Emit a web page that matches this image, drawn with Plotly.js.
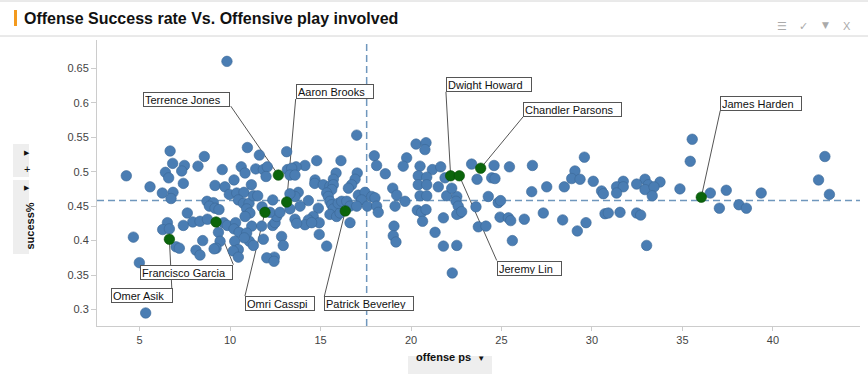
<!DOCTYPE html>
<html>
<head>
<meta charset="utf-8">
<script src="https://cdn.plot.ly/plotly-3.0.1.min.js"></script>
<style>html,body{margin:0;padding:0;background:#fff;}#chart{width:868px;height:374px;}</style>
</head>
<body>
<div id="chart"></div>
<script>
// ---- data ----
const playerX = [9.83,6.69,6.83,7.48,7.33,6.43,8.58,8.23,9.57,10.96,11.62,10.62,10.83,11.42,11.84,12.06,13.13,13.17,4.27,6.61,10.22,11.99,
5.58,6.26,6.85,6.74,7.42,9.17,9.72,11.18,9.96,10.37,10.77,10.46,10.74,11.05,11.29,11.53,10.92,11.10,10.83,11.77,12.36,8.73,9.08,8.86,9.17,9.39,7.64,
6.54,6.28,6.65,7.94,8.34,8.75,7.42,9.65,9.85,10.31,10.22,10.50,9.36,9.45,9.23,9.12,8.49,8.12,8.34,7.02,7.20,4.66,4.99,5.34,10.26,10.46,10.18,10.46,
11.07,11.29,11.20,10.92,10.79,11.75,11.84,12.36,12.49,12.58,12.21,12.76,12.85,12.94,12.45,12.03,12.43,
17.00,14.79,16.13,14.14,13.65,13.41,13.31,13.59,15.86,17.03,17.97,18.10,18.58,20.28,20.83,20.77,19.76,19.57,20.50,21.18,21.64,20.40,20.87,14.70,15.71,23.35,
16.91,16.72,16.54,14.68,15.15,15.52,15.71,15.62,15.34,13.77,13.59,13.31,14.33,13.87,13.31,14.88,14.60,14.93,14.33,14.14,14.51,13.59,13.68,14.93,15.34,
15.43,15.52,15.62,15.71,15.52,15.89,16.08,15.98,16.17,16.45,16.63,16.63,17.09,17.46,17.27,17.00,17.59,17.83,18.01,18.10,18.19,18.99,19.21,19.67,19.12,
19.06,19.02,19.17,20.40,20.87,21.51,21.97,21.88,20.50,20.87,20.35,20.59,20.83,20.64,21.33,21.79,21.79,22.53,22.49,22.61,22.71,22.53,22.80,22.25,22.53,22.28,
23.65,23.72,24.59,25.44,26.71,29.58,29.06,28.88,29.34,24.46,24.64,30.07,31.73,32.93,33.76,
24.27,24.82,24.95,23.59,24.92,25.38,25.51,24.14,25.60,26.26,26.67,27.50,28.47,27.31,28.38,29.19,29.67,30.53,30.63,31.36,31.73,31.36,30.72,30.90,31.55,32.47,32.69,
32.47,33.11,32.93,33.43,33.33,33.02,35.54,35.43,42.87,42.52,34.86,36.54,37.42,37.04,38.12,38.53,39.35,43.12];
const playerY = [0.660,0.530,0.512,0.509,0.501,0.499,0.522,0.508,0.503,0.535,0.524,0.507,0.498,0.504,0.503,0.507,0.529,0.503,0.494,0.491,0.488,0.493,
0.478,0.469,0.470,0.461,0.483,0.480,0.478,0.481,0.467,0.469,0.470,0.459,0.454,0.454,0.465,0.465,0.446,0.440,0.435,0.449,0.459,0.457,0.455,0.450,0.447,0.445,0.440,
0.426,0.416,0.417,0.427,0.428,0.431,0.422,0.426,0.422,0.426,0.417,0.412,0.412,0.399,0.389,0.388,0.400,0.386,0.379,0.391,0.389,0.405,0.368,0.295,0.399,0.387,0.385,0.376,
0.399,0.393,0.421,0.411,0.404,0.421,0.402,0.422,0.426,0.435,0.441,0.441,0.406,0.393,0.376,0.375,0.370,
0.553,0.516,0.516,0.509,0.507,0.505,0.495,0.495,0.498,0.498,0.523,0.509,0.497,0.540,0.542,0.532,0.520,0.508,0.508,0.503,0.507,0.494,0.492,0.488,0.489,0.511,
0.489,0.481,0.476,0.483,0.481,0.479,0.481,0.474,0.469,0.470,0.464,0.468,0.458,0.450,0.446,0.447,0.435,0.426,0.430,0.423,0.426,0.431,0.425,0.409,0.392,
0.464,0.457,0.452,0.446,0.438,0.435,0.440,0.454,0.457,0.457,0.450,0.426,0.466,0.470,0.459,0.450,0.450,0.464,0.462,0.450,0.441,0.476,0.466,0.457,0.450,
0.421,0.407,0.398,0.481,0.481,0.478,0.465,0.491,0.465,0.465,0.444,0.441,0.445,0.428,0.412,0.433,0.392,0.464,0.457,0.450,0.440,0.438,0.442,0.476,0.393,0.353,
0.489,0.420,0.509,0.507,0.509,0.521,0.501,0.490,0.489,0.491,0.490,0.486,0.486,0.489,0.485,
0.464,0.455,0.458,0.449,0.434,0.433,0.429,0.421,0.400,0.431,0.471,0.478,0.478,0.440,0.430,0.414,0.426,0.472,0.468,0.478,0.478,0.469,0.439,0.440,0.441,0.440,0.437,
0.482,0.481,0.474,0.478,0.465,0.393,0.547,0.515,0.522,0.488,0.475,0.469,0.473,0.447,0.452,0.447,0.469,0.467];

const namedPlayers = ['Terrence Jones','Aaron Brooks','Dwight Howard','Chandler Parsons','James Harden','Jeremy Lin','Patrick Beverley','Omri Casspi','Francisco Garcia','Omer Asik'];
const namedX = [12.67,13.13,22.19,23.85,36.04,22.67,16.37,11.93,9.23,6.65];
const namedY = [0.495,0.456,0.494,0.505,0.463,0.494,0.443,0.441,0.427,0.402];

const xTickVals = [5,10,15,20,25,30,35,40];
const yTickVals = [0.3,0.35,0.4,0.45,0.5,0.55,0.6,0.65];
const yTickText = ['0.3','0.35','0.4','0.45','0.5','0.55','0.6','0.65'];
const meanX = 17.55;
const meanY = 0.458;

// ---- layout helpers (label box placement in pixels relative to point) ----
const labelPlacement = [
  {bx:-135, by:-83, w:87, lx:-47.6, ly:-69},
  {bx:9, by:-118, w:78, lx:9, ly:-103},
  {bx:-5, by:-99, w:86, lx:-4.7, ly:-84},
  {bx:42.6, by:-66.6, w:99, lx:42.6, ly:-51.6},
  {bx:19, by:-101.6, w:82, lx:19, ly:-86.6},
  {bx:37.4, by:84.7, w:65, lx:37.4, ly:84.7},
  {bx:-21, by:85.4, w:90, lx:-21, ly:85.4},
  {bx:-20, by:83.7, w:70, lx:-20, ly:83.7},
  {bx:-76, by:42.7, w:93, lx:17.3, ly:42.7},
  {bx:-58.6, by:49, w:62, lx:2.4, ly:49}
];

const FONT = 'Liberation Sans, Arial, sans-serif';
const L = 97, R = 8, T = 40, B = 48, W = 868, H = 374;
const pw = W - L - R, ph = H - T - B;
const px = v => (v - L) / pw;       // pixel x -> paper
const py = v => (H - B - v) / ph;   // pixel y -> paper

const traces = [
  {type:'scatter', mode:'markers', x:playerX, y:playerY,
   marker:{size:10.5, color:'#4a7db3', line:{width:0.6, color:'#3a6897'}}, hoverinfo:'skip'},
  {type:'scatter', mode:'markers', x:namedX, y:namedY, text:namedPlayers,
   marker:{size:10.5, color:'#0b650b', line:{width:0.6, color:'#064d06'}}, hoverinfo:'skip'}
];

const shapes = [
  {type:'line', xref:'x', yref:'paper', x0:meanX, x1:meanX, y0:0, y1:1, line:{color:'#6f97bd', width:1.5, dash:'7px,4px'}, layer:'below'},
  {type:'line', xref:'paper', yref:'y', x0:0, x1:1, y0:meanY, y1:meanY, line:{color:'#6f97bd', width:1.5, dash:'7px,4px'}, layer:'below'},
  // header lines and orange bar
  {type:'line', xref:'paper', yref:'paper', x0:px(0), x1:px(868), y0:py(1), y1:py(1), line:{color:'#d4d4d4', width:1}},
  {type:'line', xref:'paper', yref:'paper', x0:px(0), x1:px(868), y0:py(36), y1:py(36), line:{color:'#d4d4d4', width:1}},
  {type:'rect', xref:'paper', yref:'paper', x0:px(14), x1:px(17), y0:py(26), y1:py(10), fillcolor:'#f39a1e', line:{width:0}},
  // left panel boxes
  {type:'rect', xref:'paper', yref:'paper', x0:px(13), x1:px(29), y0:py(177), y1:py(144), fillcolor:'#eeeeee', line:{width:0}},
  {type:'rect', xref:'paper', yref:'paper', x0:px(13), x1:px(29), y0:py(254), y1:py(180), fillcolor:'#eeeeee', line:{width:0}},
  // x title box
  {type:'rect', xref:'paper', yref:'paper', x0:px(408), x1:px(492), y0:py(374), y1:py(356), fillcolor:'#eeeeee', line:{width:0}}
];

const annotations = [
  {xref:'paper', yref:'paper', x:px(22), y:py(18), xanchor:'left', yanchor:'middle', showarrow:false,
   text:'Offense Success rate Vs. Offensive play involved', font:{family:FONT, size:16, color:'#111', weight:'bold'}},
  {xref:'paper', yref:'paper', x:px(789), y:py(18), showarrow:false, text:'☰', font:{family:'DejaVu Sans', size:11, color:'#aaa'}},
  {xref:'paper', yref:'paper', x:px(810), y:py(18), showarrow:false, text:'✓', font:{family:'DejaVu Sans', size:11, color:'#aaa'}},
  {xref:'paper', yref:'paper', x:px(831), y:py(18), showarrow:false, text:'▼', font:{family:'DejaVu Sans', size:9, color:'#aaa'}},
  {xref:'paper', yref:'paper', x:px(853), y:py(18), showarrow:false, text:'X', font:{family:FONT, size:11, color:'#aaa'}},
  {xref:'paper', yref:'paper', x:px(21.5), y:py(153), showarrow:false, text:'▶', font:{family:'DejaVu Sans', size:7, color:'#111'}},
  {xref:'paper', yref:'paper', x:px(21.5), y:py(169), showarrow:false, text:'+', font:{family:FONT, size:11, color:'#111'}},
  {xref:'paper', yref:'paper', x:px(21.5), y:py(188), showarrow:false, text:'▶', font:{family:'DejaVu Sans', size:7, color:'#111'}},
  {xref:'paper', yref:'paper', x:px(21.5), y:py(226), showarrow:false, textangle:-90, text:'sucess%', font:{family:FONT, size:11, color:'#111', weight:'bold'}},
  {xref:'paper', yref:'paper', x:px(450), y:py(365), showarrow:false, text:'<b>offense ps</b>  <span style="font-size:8px">▼</span>', font:{family:FONT, size:11, color:'#111'}}
];

namedPlayers.forEach((name, i) => {
  const p = labelPlacement[i];
  annotations.push({xref:'x', yref:'y', x:namedX[i], y:namedY[i], xanchor:'left', yanchor:'top',
    xshift:p.bx, yshift:-p.by, showarrow:false, text:name, align:'left', width:p.w-4, height:11,
    bgcolor:'#ffffff', bordercolor:'#555555', borderwidth:1, borderpad:1,
    font:{family:FONT, size:11, color:'#111'}});
  shapes.push({type:'line', xref:'x', yref:'y', xsizemode:'pixel', ysizemode:'pixel',
    xanchor:namedX[i], yanchor:namedY[i], x0:0, y0:0, x1:p.lx, y1:-p.ly,
    line:{color:'#555555', width:1}, layer:'below'});
});

const layout = {
  width:W, height:H, margin:{l:L, r:R, t:T, b:B, pad:0},
  paper_bgcolor:'#ffffff', plot_bgcolor:'#ffffff', showlegend:false,
  font:{family:FONT, size:11, color:'#444'},
  xaxis:{range:[2.65,44.81], tickvals:xTickVals, showgrid:false, zeroline:false, showline:true, linecolor:'#cccccc',
         ticks:'outside', ticklen:4, tickcolor:'#cccccc', tickfont:{family:FONT, size:11, color:'#444'}},
  yaxis:{range:[0.2761,0.691], tickvals:yTickVals, ticktext:yTickText, showgrid:false, zeroline:false, showline:true,
         linecolor:'#cccccc', ticks:'outside', ticklen:5, tickcolor:'#cccccc', tickfont:{family:FONT, size:11, color:'#444'}},
  shapes:shapes, annotations:annotations
};

Plotly.newPlot('chart', traces, layout, {staticPlot:true, displayModeBar:false});
</script>
</body>
</html>
